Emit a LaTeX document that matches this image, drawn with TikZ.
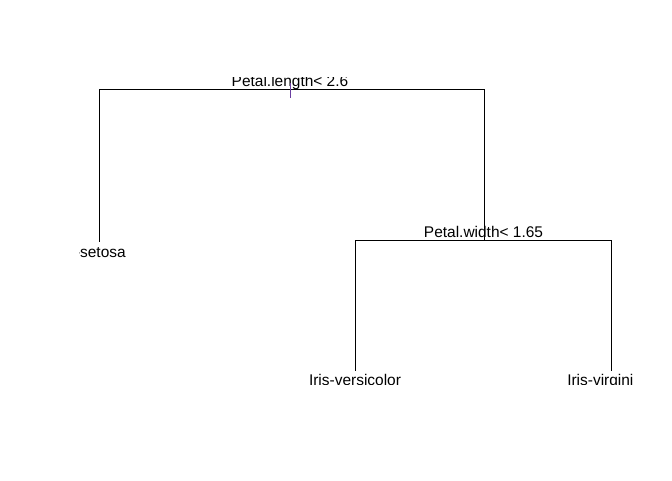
\documentclass[tikz,border=0pt]{standalone}
\usepackage{fontspec}
\setmainfont{Liberation Sans}
\usepackage{xcolor}
\usepackage{tikz}
\usetikzlibrary{calc}
\definecolor{BLACK}{HTML}{000000}
\definecolor{WHITE}{HTML}{FFFFFF}
\definecolor{PURPLE}{HTML}{6A3FA0}
\tikzset{
    lbl/.style={BLACK, inner sep=0pt, font=\fontsize{11.6}{13}\selectfont},
    branch/.style={BLACK, line width=0.75pt, line cap=rect}
}

\begin{document}
\begin{tikzpicture}[x=0.75pt, y=-0.75pt]
    \useasboundingbox[fill=WHITE] (0,0) rectangle (672,480);
    % Nodes
    \coordinate (root) at (290,89);
    \coordinate (setosa) at (99,241);
    \coordinate (width) at (484,240);
    \coordinate (versi) at (355,370);
    \coordinate (virg) at (611,370);
    % Labels (cut off at the plot region)
    \begin{scope}
        \clip (79,77.5) rectangle (632,384);
        \node[lbl, anchor=base] (rootlbl) at (290,86) {Petal.length< 2.6};
        \node[lbl, anchor=base] (widthlbl) at (483.5,237) {Petal.width< 1.65};
        \node[lbl, anchor=base east] (setosalbl) at (126,257) {-setosa};
        \node[lbl, anchor=base] (versilbl) at (355,385) {Iris-versicolor};
        \node[lbl, anchor=base west] (virglbl) at (567,385) {Iris-virgini};
    \end{scope}
    % Top split
    \draw[branch] (setosa) -- (setosa |- root) -- (width |- root) -- (width);
    \draw[PURPLE, line width=0.75pt] ($(root)+(0,-6)$) -- ($(root)+(0,9)$);
    % Lower split
    \draw[branch] (versi) -- (versi |- width) -- (virg |- width) -- (virg);
\end{tikzpicture}
\end{document}
